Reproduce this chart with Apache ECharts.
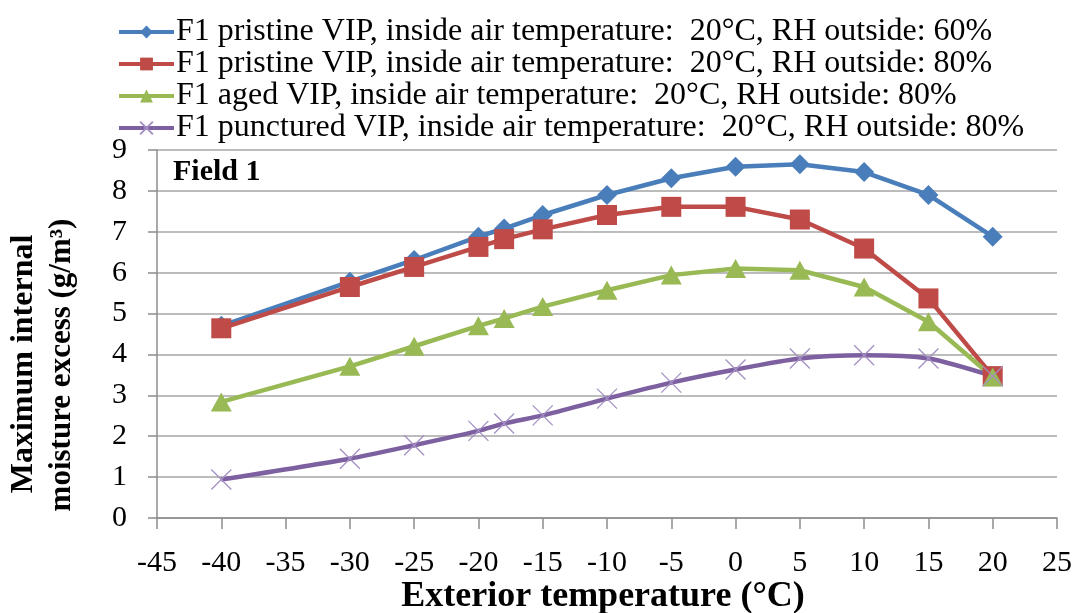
<!DOCTYPE html>
<html>
<head>
<meta charset="utf-8">
<script src="https://cdn.jsdelivr.net/npm/echarts@6/dist/echarts.min.js"></script>
<style>html,body{margin:0;padding:0;background:#fff}#c{width:1077px;height:613px}</style>
</head>
<body>
<div id="c"></div>
<script>
const temps = [-40, -30, -25, -20, -18, -15, -10, -5, 0, 5, 10, 15, 20];
const pristine60 = [4.70, 5.78, 6.31, 6.88, 7.08, 7.41, 7.90, 8.31, 8.59, 8.65, 8.46, 7.90, 6.88];
const pristine80 = [4.64, 5.65, 6.14, 6.63, 6.82, 7.06, 7.41, 7.61, 7.61, 7.30, 6.59, 5.37, 3.47];
const aged80 = [2.84, 3.71, 4.20, 4.70, 4.88, 5.17, 5.57, 5.94, 6.10, 6.06, 5.65, 4.80, 3.45];
const punctured80 = [0.94, 1.45, 1.78, 2.13, 2.31, 2.51, 2.92, 3.31, 3.63, 3.90, 3.98, 3.90, 3.47];
const seriesNames = [
  'F1 pristine VIP, inside air temperature:  20°C, RH outside: 60%',
  'F1 pristine VIP, inside air temperature:  20°C, RH outside: 80%',
  'F1 aged VIP, inside air temperature:  20°C, RH outside: 80%',
  'F1 punctured VIP, inside air temperature:  20°C, RH outside: 80%'
];
const xTitle = 'Exterior temperature (°C)';
const yTitle1 = 'Maximum internal';
const yTitle2 = 'moisture excess (g/m³)';
const panelLabel = 'Field 1';

const pairs = arr => temps.map((t, i) => [t, arr[i]]);
const FONT = '"Liberation Serif", "Times New Roman", serif';
const AXIS_GRAY = '#8c8c8c';

const chart = echarts.init(document.getElementById('c'));
chart.setOption({
  animation: false,
  grid: { left: 157, right: 20, top: 150, bottom: 95 },
  legend: {
    orient: 'vertical', left: 112, top: 11, itemGap: 0, itemWidth: 55, itemHeight: 16,
    padding: 5,
    lineStyle: { width: 4 },
    textStyle: { fontFamily: FONT, fontSize: 32, lineHeight: 31, color: '#000', padding: [0, 0, 0, -3] },
    data: seriesNames
  },
  xAxis: {
    type: 'value', min: -45, max: 25, interval: 5,
    axisLine: { onZero: false, lineStyle: { color: AXIS_GRAY, width: 1.5 } },
    axisTick: { show: true, length: 11, lineStyle: { color: AXIS_GRAY, width: 1.5 } },
    axisLabel: { fontFamily: FONT, fontSize: 30, color: '#000', margin: 30 },
    splitLine: { show: false }
  },
  yAxis: {
    type: 'value', min: 0, max: 9, interval: 1,
    axisLine: { show: true, onZero: false, lineStyle: { color: AXIS_GRAY, width: 1.5 } },
    axisTick: { show: true, length: 9, lineStyle: { color: AXIS_GRAY, width: 1.5 } },
    axisLabel: { fontFamily: FONT, fontSize: 30, color: '#000', margin: 30 },
    splitLine: { show: true, lineStyle: { color: '#a6a6a6', width: 1.5 } }
  },
  graphic: [
    { type: 'text', x: 173, y: 172, style: { text: panelLabel, font: 'bold 30px ' + FONT, fill: '#000', textVerticalAlign: 'middle' } },
    { type: 'text', x: 24, y: 364, rotation: Math.PI / 2,
      style: { text: yTitle1, font: 'bold 32px ' + FONT, fill: '#000', textAlign: 'center', textVerticalAlign: 'middle' } },
    { type: 'text', x: 62, y: 365, rotation: Math.PI / 2,
      style: { text: yTitle2, font: 'bold 31px ' + FONT, fill: '#000', textAlign: 'center', textVerticalAlign: 'middle' } },
    { type: 'text', x: 603, y: 597,
      style: { text: xTitle, font: 'bold 36px ' + FONT, fill: '#000', textAlign: 'center', textVerticalAlign: 'middle' } }
  ],
  series: [
    { name: seriesNames[0], type: 'line', data: pairs(pristine60), color: '#4a7ebb',
      symbol: 'diamond', symbolSize: 20, lineStyle: { width: 4.5, color: '#4a7ebb' }, itemStyle: { color: '#4a7ebb' } },
    { name: seriesNames[1], type: 'line', data: pairs(pristine80), color: '#be4b48',
      symbol: 'rect', symbolSize: 20, lineStyle: { width: 4.5, color: '#be4b48' }, itemStyle: { color: '#be4b48' } },
    { name: seriesNames[2], type: 'line', data: pairs(aged80), color: '#98b954',
      symbol: 'triangle', symbolSize: [21, 19], lineStyle: { width: 4.5, color: '#98b954' }, itemStyle: { color: '#98b954' } },
    { name: seriesNames[3], type: 'line', data: pairs(punctured80), color: '#7d60a0', smooth: 0.25,
      symbol: 'path://M0,0L10,10M10,0L0,10', symbolSize: 20,
      lineStyle: { width: 4.5, color: '#7d60a0' },
      itemStyle: { color: 'rgba(0,0,0,0)', borderColor: '#a590c4', borderWidth: 1.3 } }
  ]
});
</script>
</body>
</html>
